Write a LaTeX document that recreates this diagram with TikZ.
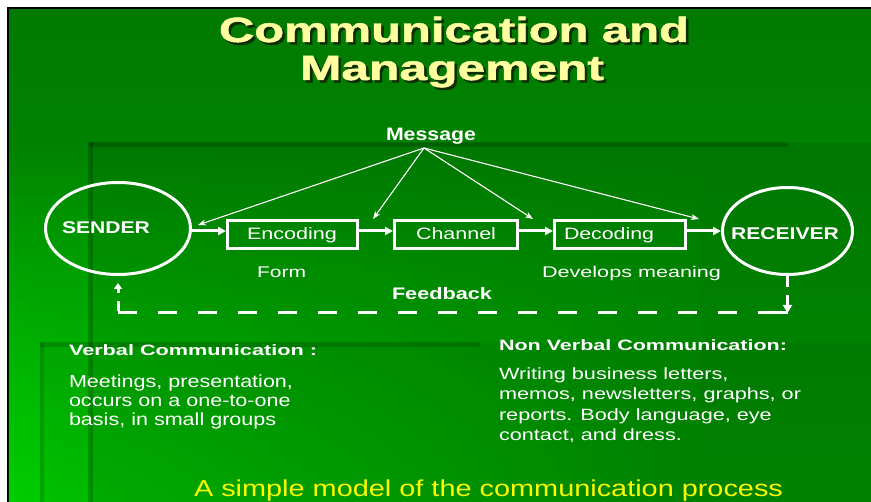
\documentclass[tikz,border=0pt]{standalone}
\usepackage{fontspec}
\setmainfont{Liberation Sans}
\newfontfamily\titlefont{Liberation Sans}[FakeBold=1.2]
\usepackage{graphicx}
\usetikzlibrary{arrows.meta,shapes.geometric,fadings}
\definecolor{bgtop}{RGB}{0,122,0}
\definecolor{bgbot}{RGB}{0,150,0}
\definecolor{bright}{RGB}{0,205,0}
\definecolor{titlecol}{RGB}{255,255,160}
\definecolor{shadowcol}{RGB}{15,45,0}
\definecolor{capcol}{RGB}{250,250,0}
\newcommand\fitt[3]{\resizebox{#1pt}{\height}{\fontsize{#2pt}{#2pt}\selectfont #3}}
\newcommand\fitp[4]{\resizebox{#1pt}{\height}{\fontsize{#2pt}{#3pt}\selectfont\begin{tabular}[t]{@{}l@{}}#4\end{tabular}}}
\newcommand\shadowed[1]{\rlap{\hspace{1.8pt}\raisebox{-2.5pt}{\color{shadowcol}#1}}#1}
\begin{document}
\begin{tikzpicture}[x=1pt,y=-1pt,
  txt/.style={inner sep=0pt, outer sep=0pt, text=white, anchor=base west},
  ctxt/.style={inner sep=0pt, outer sep=0pt, text=white, anchor=base},
  ell/.style={ellipse, draw=white, line width=3pt, inner sep=0pt},
  box/.style={rectangle, draw=white, line width=3pt, inner sep=0pt, minimum height=28pt},
  flow/.style={draw=white, line width=3pt, -{Triangle[length=8pt,width=8pt]}},
  msg/.style={draw=white, line width=1.1pt, -{Stealth[length=8pt,width=6pt]}},
  fb/.style={draw=white, line width=3pt},
  fbhead/.style={-{Triangle[length=8pt,width=9pt]}},
  fbheadsmall/.style={-{Triangle[length=6pt,width=8pt]}}
]
\useasboundingbox (0,0) rectangle (871,502);
% frame and background
\fill[white] (0,0) rectangle (871,502);
\fill[black] (7,7) rectangle (871,502);
\shade[top color=bgtop, bottom color=bgbot] (9,10) rectangle (871,502);
\shade[left color=bright, right color=bgbot, path fading=north] (9,140) rectangle (700,502);
% overlay panels
\fill[black, fill opacity=0.08] (90,143) rectangle (871,502);
\fill[black, fill opacity=0.18] (90,142) rectangle (788,147);
\fill[black, fill opacity=0.18] (88,142) rectangle (93,502);
\fill[black, fill opacity=0.05] (40,343) rectangle (871,502);
\fill[black, fill opacity=0.15] (40,342) rectangle (480,347);
\fill[black, fill opacity=0.12] (40,342) rectangle (44,502);
% title
\node[ctxt, text=titlecol] (t1) at (454,42) {\fitt{470}{35}{\titlefont\bfseries\shadowed{Communication and}}};
\node[ctxt, text=titlecol] (t2) at (452,80) {\fitt{304}{35}{\titlefont\bfseries\shadowed{Management}}};
% message
\node[ctxt] (message) at (431,141) {\fitt{90}{18}{\bfseries Message}};
\coordinate (msgpt) at (424,148);
% main row
\node[ell, minimum width=145pt, minimum height=92pt] (sender) at (118,228.5) {};
\node[txt] (senderlbl) at (62,234) {\fitt{88}{17}{\bfseries SENDER}};
\node[box, minimum width=130pt] (enc) at (292.5,234.5) {};
\node[txt] (enclbl) at (247,240) {\fitt{90}{16.5}{Encoding}};
\node[box, minimum width=123pt] (chan) at (456,234.5) {};
\node[txt] (chanlbl) at (416,240) {\fitt{80}{16.5}{Channel}};
\node[box, minimum width=131pt] (dec) at (620,234.5) {};
\node[txt] (declbl) at (564,240) {\fitt{90}{16.5}{Decoding}};
\node[ell, minimum width=130pt, minimum height=87pt] (receiver) at (787.5,231) {};
\node[txt] (receiverlbl) at (731,240) {\fitt{108}{17}{\bfseries RECEIVER}};
\coordinate (rowy) at (0,231);
\draw[flow] (sender.east |- rowy) -- (enc.west |- rowy);
\draw[flow] (enc.east |- rowy) -- (chan.west |- rowy);
\draw[flow] (chan.east |- rowy) -- (dec.west |- rowy);
\draw[flow] (dec.east |- rowy) -- (receiver.west |- rowy);
% message arrows
\coordinate (m1) at (198,225);
\coordinate (m2) at (373,219);
\coordinate (m3) at (533,219);
\coordinate (m4) at (699,219);
\draw[msg] (msgpt) -- (m1);
\draw[msg] (msgpt) -- (m2);
\draw[msg] (msgpt) -- (m3);
\draw[msg] (msgpt) -- (m4);
% labels under
\node[txt] (form) at (257,277.5) {\fitt{49}{15.5}{Form}};
\node[txt] (develops) at (542,277.5) {\fitt{179}{15.5}{Develops meaning}};
\node[txt] (feedback) at (392,300) {\fitt{100}{16.7}{\bfseries Feedback}};
% feedback loop
\coordinate (fbR) at (787.5,313);
\coordinate (fbL) at (118,313);
\coordinate (fbtip) at (118,283);
\coordinate (fbRend) at (760,313);
\draw[fb, dash pattern=on 11pt off 8pt, fbhead] (receiver.south) -- (fbR);
\draw[fb, line cap=butt] (fbRend) -- (fbR);
\draw[fb, dash pattern=on 19pt off 21pt] (fbL) -- (fbRend);
\draw[fb, dash pattern=on 10pt off 8pt, fbheadsmall] ([yshift=1.5pt]fbL) -- (fbtip);
% lower texts
\node[txt] (verbal) at (69,355.7) {\fitt{248}{15}{\bfseries Verbal Communication :}};
\node[txt] (verbalbody) at (69,387.7) {\fitp{224}{17.5}{19}{Meetings, presentation,\\ occurs on a one-to-one\\ basis, in small groups}};
\node[txt] (nonverbal) at (499,350.7) {\fitt{288}{15}{\bfseries Non Verbal Communication:}};
\node[txt] (nonverbalbody) at (499,380) {\fitp{302}{16.3}{20}{Writing business letters,\\ memos, newsletters, graphs, or\\ reports. Body language, eye\\ contact, and dress.}};
\node[txt, text=capcol] (caption) at (194,497) {\fitt{589}{23}{A simple model of the communication process}};
\end{tikzpicture}
\end{document}
